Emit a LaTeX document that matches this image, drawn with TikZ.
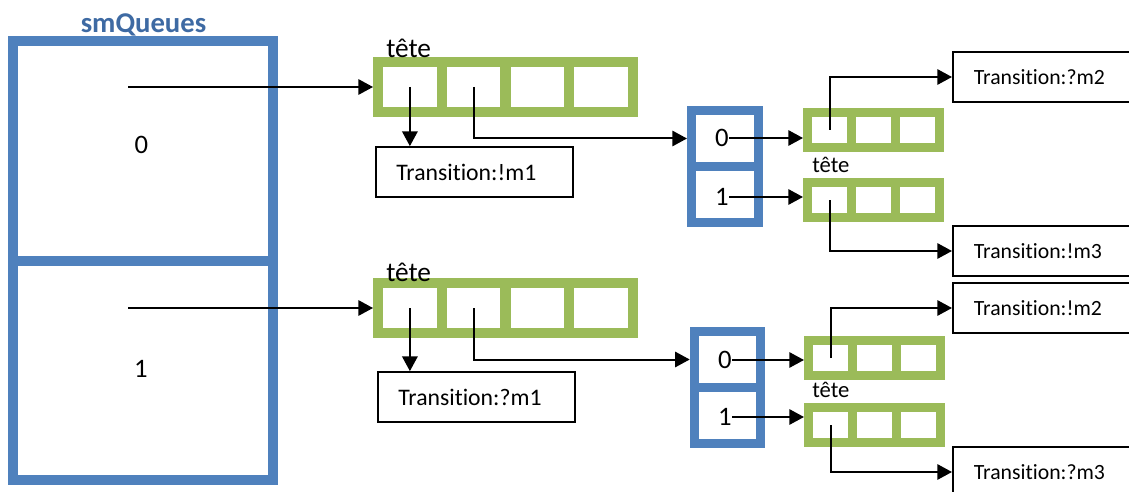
\documentclass[tikz,border=0pt]{standalone}
\usepackage{fontspec}
\setmainfont{Carlito}[RawFeature=-liga]
\usetikzlibrary{arrows.meta}
\definecolor{qblue}{HTML}{4F81BD}
\definecolor{qgreen}{HTML}{9BBB59}
\definecolor{ttl}{HTML}{3E6AA3}
\tikzset{
  bigcell/.style={draw=qblue, line width=7.5pt, minimum width=195pt, minimum height=164.25pt, inner sep=0pt},
  gcell/.style={draw=qgreen, line width=7.5pt, minimum width=47.8pt, minimum height=37.5pt, inner sep=0pt},
  bcell/.style={draw=qblue, line width=6.75pt, minimum width=49.9pt, minimum height=42pt, inner sep=0pt},
  scell/.style={draw=qgreen, line width=6.75pt, minimum width=33pt, minimum height=26.25pt, inner sep=0pt},
  tbox/.style={draw=black, line width=1.3pt, anchor=west, minimum height=37.5pt, text width=117pt, inner xsep=15.4pt, inner ysep=0pt, align=left, font=\fontsize{17.8}{21}\selectfont},
  rbox/.style={draw=black, line width=1.3pt, anchor=west, minimum height=37.5pt, text width=150pt, inner xsep=15.75pt, inner ysep=0pt, align=left, font=\fontsize{16.3}{19}\selectfont},
  digit/.style={inner sep=0pt, font=\fontsize{20}{24}\selectfont},
  tete/.style={inner sep=0pt, anchor=base west, font=\fontsize{20.5}{24}\selectfont},
  stete/.style={inner sep=0pt, anchor=base west, font=\fontsize{17}{20}\selectfont},
  arr/.style={line width=1.5pt, -{Triangle[length=11pt,width=11.5pt]}},
}
\begin{document}
\begin{tikzpicture}[x=0.75pt,y=-0.75pt]
\useasboundingbox (0,0) rectangle (1129,492);

% title
\node[inner sep=0pt, anchor=base, text=ttl, font=\fontsize{21.5}{25}\selectfont\bfseries] (title) at (143.5,33) {smQueues};

% big box
\node[bigcell] (bigA) at (142.5,151) {};
\node[bigcell] (bigB) at (142.5,370) {};
\node[digit] (d0) at (141.5,145) {0};
\node[digit] (d1) at (141,369) {1};
\coordinate (s0) at (128,87);
\coordinate (s1) at (128,308);

% ---------- upper half ----------
\node[gcell] (g01) at (409.9,87) {};
\node[gcell] (g02) at (473.6,87) {};
\node[gcell] (g03) at (537.4,87) {};
\node[gcell] (g04) at (601.1,87) {};
\node[tete] (tt0) at (386,58) {tête};
\node[tbox] (tb0) at (375,172) {Transition:!m1};

\node[bcell] (b00) at (724.75,138.5) {};
\node[bcell] (b01) at (724.75,194.5) {};
\node[digit] (n00) at (722,138) {0};
\node[digit] (n01) at (722,197) {1};

\node[scell] (sa1) at (829.5,130) {};
\node[scell] (sa2) at (873.5,130) {};
\node[scell] (sa3) at (917.5,130) {};
\node[scell] (sb1) at (829.5,200) {};
\node[scell] (sb2) at (873.5,200) {};
\node[scell] (sb3) at (917.5,200) {};
\node[stete] (st0) at (812,172) {tête};

\node[rbox] (r00) at (952,77) {Transition:?m2};
\node[rbox] (r01) at (952,251) {Transition:!m3};

% ---------- lower half ----------
\node[gcell] (g11) at (409.9,308) {};
\node[gcell] (g12) at (473.6,308) {};
\node[gcell] (g13) at (537.4,308) {};
\node[gcell] (g14) at (601.1,308) {};
\node[tete] (tt1) at (386,281) {tête};
\node[tbox] (tb1) at (377,397) {Transition:?m1};

\node[bcell] (b10) at (727.5,359.5) {};
\node[bcell] (b11) at (727.5,415.5) {};
\node[digit] (n10) at (725,360) {0};
\node[digit] (n11) at (725,417) {1};

\node[scell] (sc1) at (830.5,358) {};
\node[scell] (sc2) at (874.5,358) {};
\node[scell] (sc3) at (918.5,358) {};
\node[scell] (sd1) at (830.5,425) {};
\node[scell] (sd2) at (874.5,425) {};
\node[scell] (sd3) at (918.5,425) {};
\node[stete] (st1) at (812,397) {tête};

\node[rbox] (r10) at (952,308) {Transition:!m2};
\node[rbox] (r11) at (952,472) {Transition:?m3};

% ---------- connectors ----------
\draw[arr] (s0) -- (s0 -| g01.west);
\draw[arr] (g01.center) -- (g01.center |- tb0.north);
\draw[arr] (g02.center) |- (b00.west);
\draw[arr] (n00.east) -- (n00.east -| sa1.west);
\draw[arr] (n01.east) -- (n01.east -| sb1.west);
\draw[arr] (sa1.center) |- (r00.west);
\draw[arr] (sb1.center) |- (r01.west);

\draw[arr] (s1) -- (s1 -| g11.west);
\draw[arr] (g11.center) -- (g11.center |- tb1.north);
\draw[arr] (g12.center) |- (b10.west);
\draw[arr] (n10.east) -- (n10.east -| sc1.west);
\draw[arr] (n11.east) -- (n11.east -| sd1.west);
\draw[arr] (sc1.center) |- (r10.west);
\draw[arr] (sd1.center) |- (r11.west);
\end{tikzpicture}
\end{document}
